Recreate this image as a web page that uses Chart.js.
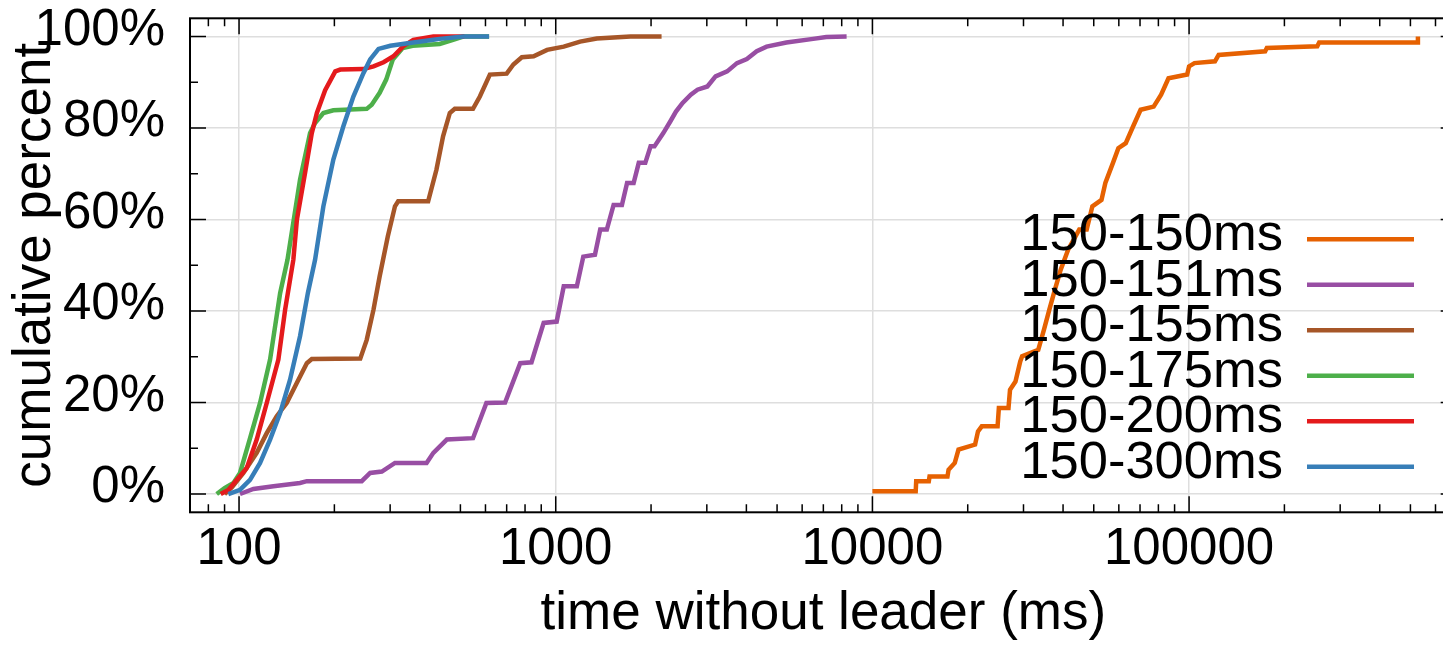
<!DOCTYPE html>
<html>
<head>
<meta charset="utf-8">
<title>time without leader</title>
<script src="https://cdn.jsdelivr.net/npm/chart.js@4.4.1/dist/chart.umd.min.js"></script>
<style>
  html, body { margin: 0; padding: 0; background: #fff; overflow: hidden; }
  #cdfChart { display: block; }
</style>
</head>
<body>
<canvas id="cdfChart" width="1460" height="646"></canvas>
<script>
// series, in legend order
const seriesLabels = ["150-150ms", "150-151ms", "150-155ms", "150-175ms", "150-200ms", "150-300ms"];
const seriesColors = ["#e66101", "#984ea3", "#a65628", "#4daf4a", "#e41a1c", "#377eb8"];

// time without leader (ms) / cumulative percent
const t150_150 = [10000, 13700, 13750, 15070, 15150, 17260, 17400, 18200, 18700, 21100, 21550, 22150, 24850, 25080, 26900, 27200, 28300, 29300, 29700, 33400, 34800, 36200, 37700, 39300, 41500, 45000, 47500, 49500, 52900, 54400, 57500, 59800, 63100, 66600, 70300, 77300, 81600, 86100, 98600, 100000, 104000, 120700, 124000, 173900, 176000, 254000, 257500, 527000, 528000];
const p150_150 = [0.6, 0.6, 2.8, 2.8, 3.8, 3.8, 5.3, 6.8, 9.7, 10.8, 13.7, 14.8, 14.8, 18.8, 18.8, 22.8, 24.6, 29, 30.1, 31.5, 35.9, 40.3, 44.7, 49, 53.4, 57.8, 57.8, 62.9, 64.3, 68, 72.4, 75.6, 76.7, 80.4, 84, 84.7, 87.3, 90.9, 91.7, 93.5, 94.2, 94.6, 96.0, 96.8, 97.5, 97.9, 98.7, 98.7, 100];

const t150_151 = [100.7, 111, 128.4, 155.8, 163.7, 244, 259.4, 282.4, 310.7, 391, 410.7, 453, 548, 604, 692, 772.5, 838.5, 916, 1007, 1060, 1166, 1222, 1330, 1382, 1450, 1523, 1618, 1680, 1762, 1829, 1918, 1993, 2050, 2186, 2307, 2397, 2516, 2670, 2803, 3012, 3197, 3478, 3736, 4013, 4313, 4633, 5352, 6500, 7150, 8290];
const p150_151 = [0, 1.1, 1.7, 2.4, 2.8, 2.8, 4.6, 4.9, 6.8, 6.8, 9.0, 11.9, 12.2, 19.9, 20, 28.6, 28.8, 37.4, 37.7, 45.4, 45.4, 51.9, 52.3, 57.8, 57.8, 63.2, 63.2, 68, 68, 72.4, 72.4, 76, 76, 78.9, 81.6, 83.6, 85.5, 87.3, 88.4, 89.1, 91.3, 92.4, 94.2, 95.1, 96.8, 97.8, 98.7, 99.5, 99.9, 100];

const t150_155 = [90, 95, 103.2, 113.7, 122.3, 131.5, 141.4, 152.3, 163.7, 169.7, 241.4, 253, 265.8, 278, 294.9, 310.7, 318, 395.5, 420, 440.8, 463, 480, 548, 576, 619.5, 700, 735, 781.6, 851.6, 939, 1060, 1194, 1348, 1722, 2159];
const p150_155 = [0, 1.5, 4.6, 9, 13.3, 17, 19.9, 24.3, 28.6, 29.5, 29.6, 33.7, 40.3, 47.6, 56.3, 62.9, 64, 64, 70.9, 78.2, 83.3, 84.2, 84.2, 86.9, 91.7, 91.9, 93.9, 95.5, 95.7, 97.1, 97.8, 98.9, 99.6, 100, 100];

const t150_175 = [85, 90, 96, 100.7, 108, 116.5, 125.3, 134.8, 142.2, 155.8, 167.6, 173.8, 184.6, 198.5, 253, 262.4, 278, 291.5, 305.8, 328.6, 353.4, 430, 474, 510, 616];
const p150_175 = [0, 1.3, 2.4, 4.6, 11.9, 19.9, 29.4, 43.9, 51.2, 68.7, 78.9, 81.1, 83.3, 83.9, 84.2, 85.1, 87.7, 90.6, 95, 97.5, 98, 98.4, 99.3, 100, 100];

const t150_200 = [87.5, 92.5, 98.3, 105.8, 113.7, 122.3, 133.1, 139.8, 148.4, 152.3, 161.6, 169.7, 176.1, 187, 201.3, 208.8, 247, 265.8, 286, 307.3, 330, 355, 410.7, 515];
const p150_200 = [0, 0.9, 3.1, 5.7, 11.9, 19.9, 29.4, 40.3, 51.2, 60, 70.2, 78.9, 83.3, 88.3, 92.4, 92.8, 92.9, 93.5, 94.4, 95.7, 97.9, 99.3, 100, 100];

const t150_300 = [92.5, 100.7, 108.3, 116.5, 125.3, 134.8, 144.9, 155.8, 164.9, 173.8, 184.6, 198.5, 213.5, 229.6, 247, 259.4, 275.7, 300.4, 336.5, 410.7, 430, 510, 616];
const p150_300 = [0, 0.9, 3.1, 6.8, 11.9, 17.7, 25, 34.5, 43.9, 51.2, 62.9, 73.1, 80.4, 86.9, 92, 95, 97.3, 98, 98.5, 99.3, 99.5, 100, 100];

const seriesTimes = [t150_150, t150_151, t150_155, t150_175, t150_200, t150_300];
const seriesPercents = [p150_150, p150_151, p150_155, p150_175, p150_200, p150_300];

// axes
const xMin = 70, xMax = 700000;
const yMin = -4, yMax = 104;
const xTicks = [100, 1000, 10000, 100000];
const yTicks = [0, 20, 40, 60, 80, 100];
const yMinorTicks = [10, 30, 50, 70, 90];

const TICK_FONT = { family: "'Liberation Sans', Arial, sans-serif", size: 51 };
const TITLE_FONT = { family: "'Liberation Sans', Arial, sans-serif", size: 53 };
const LEGEND_FONT = "52.5px 'Liberation Sans', Arial, sans-serif";

// minor log ticks 2..9 of each decade inside the range
const xMinorTicks = [];
for (let d = 10; d <= xMax; d *= 10) {
    for (let k = 2; k <= 9; k++) {
        const v = d * k;
        if (v > xMin && v < xMax) xMinorTicks.push(v);
    }
}

// gnuplot-style frame: border + inward ticks on all four sides
const framePlugin = {
    id: "frame",
    afterDatasetsDraw(chart) {
        const { ctx, chartArea: a, scales: { x, y } } = chart;
        ctx.save();
        ctx.strokeStyle = "#000";
        ctx.lineWidth = 2;
        ctx.strokeRect(a.left, a.top, a.right - a.left, a.bottom - a.top);
        ctx.lineWidth = 1.5;
        ctx.beginPath();
        const xTick = (v, len) => {
            const px = x.getPixelForValue(v);
            ctx.moveTo(px, a.bottom); ctx.lineTo(px, a.bottom - len);
            ctx.moveTo(px, a.top); ctx.lineTo(px, a.top + len);
        };
        const yTick = (v, len) => {
            const py = y.getPixelForValue(v);
            ctx.moveTo(a.left, py); ctx.lineTo(a.left + len, py);
            ctx.moveTo(a.right, py); ctx.lineTo(a.right - len, py);
        };
        xTicks.forEach(v => xTick(v, 16));
        xMinorTicks.forEach(v => xTick(v, 8));
        yTicks.forEach(v => yTick(v, 16));
        yMinorTicks.forEach(v => yTick(v, 8));
        ctx.stroke();
        ctx.restore();
    }
};

// legend: right-aligned text with the line sample after it
const legendPlugin = {
    id: "sideLegend",
    afterDraw(chart) {
        const { ctx } = chart;
        ctx.save();
        ctx.font = LEGEND_FONT;
        ctx.fillStyle = "#000";
        ctx.textAlign = "right";
        ctx.textBaseline = "alphabetic";
        chart.data.datasets.forEach((ds, i) => {
            const ly = 239.3 + i * 45.5;
            ctx.fillText(ds.label, 1283, ly + 11);
            ctx.strokeStyle = ds.borderColor;
            ctx.lineWidth = 4.5;
            ctx.beginPath();
            ctx.moveTo(1307, ly);
            ctx.lineTo(1414, ly);
            ctx.stroke();
        });
        ctx.restore();
    }
};

const datasets = seriesLabels.map((label, i) => ({
    label: label,
    data: seriesTimes[i].map((t, j) => ({ x: t, y: seriesPercents[i][j] })),
    borderColor: seriesColors[i],
    backgroundColor: seriesColors[i],
    borderWidth: 4.5,
    pointRadius: 0,
    tension: 0,
    fill: false,
    order: seriesLabels.length - i // later series drawn on top
}));

new Chart(document.getElementById("cdfChart"), {
    type: "line",
    data: { datasets: datasets },
    options: {
        responsive: false,
        animation: false,
        layout: { padding: { top: 18.3, right: 3.3, bottom: 0, left: 0 } },
        scales: {
            x: {
                type: "logarithmic",
                min: xMin,
                max: xMax,
                afterBuildTicks: scale => { scale.ticks = xTicks.map(v => ({ value: v })); },
                afterFit: scale => {
                    scale.height = 646 - 512.3;
                    scale.paddingLeft = 0;
                    scale.paddingRight = 0;
                },
                grid: { color: "#dedede", lineWidth: 1.5, drawTicks: false },
                border: { display: false },
                ticks: {
                    autoSkip: false,
                    maxRotation: 0,
                    padding: 7,
                    color: "#000",
                    font: TICK_FONT,
                    callback: v => String(v)
                },
                title: {
                    display: true,
                    text: "time without leader (ms)",
                    color: "#000",
                    font: TITLE_FONT,
                    padding: { top: 0, bottom: 0 }
                }
            },
            y: {
                type: "linear",
                min: yMin,
                max: yMax,
                afterBuildTicks: scale => { scale.ticks = yTicks.map(v => ({ value: v })); },
                afterFit: scale => {
                    scale.width = 190;
                    scale.paddingTop = 0;
                    scale.paddingBottom = 0;
                },
                grid: { color: "#dedede", lineWidth: 1.5, drawTicks: false },
                border: { display: false },
                ticks: {
                    padding: 25,
                    labelOffset: -6,
                    color: "#000",
                    font: TICK_FONT,
                    callback: v => v + "%"
                },
                title: {
                    display: true,
                    text: "cumulative percent",
                    color: "#000",
                    font: TITLE_FONT,
                    padding: { top: 4, bottom: 0 }
                }
            }
        },
        plugins: {
            legend: { display: false },
            tooltip: { enabled: false }
        }
    },
    plugins: [framePlugin, legendPlugin]
});
</script>
</body>
</html>
